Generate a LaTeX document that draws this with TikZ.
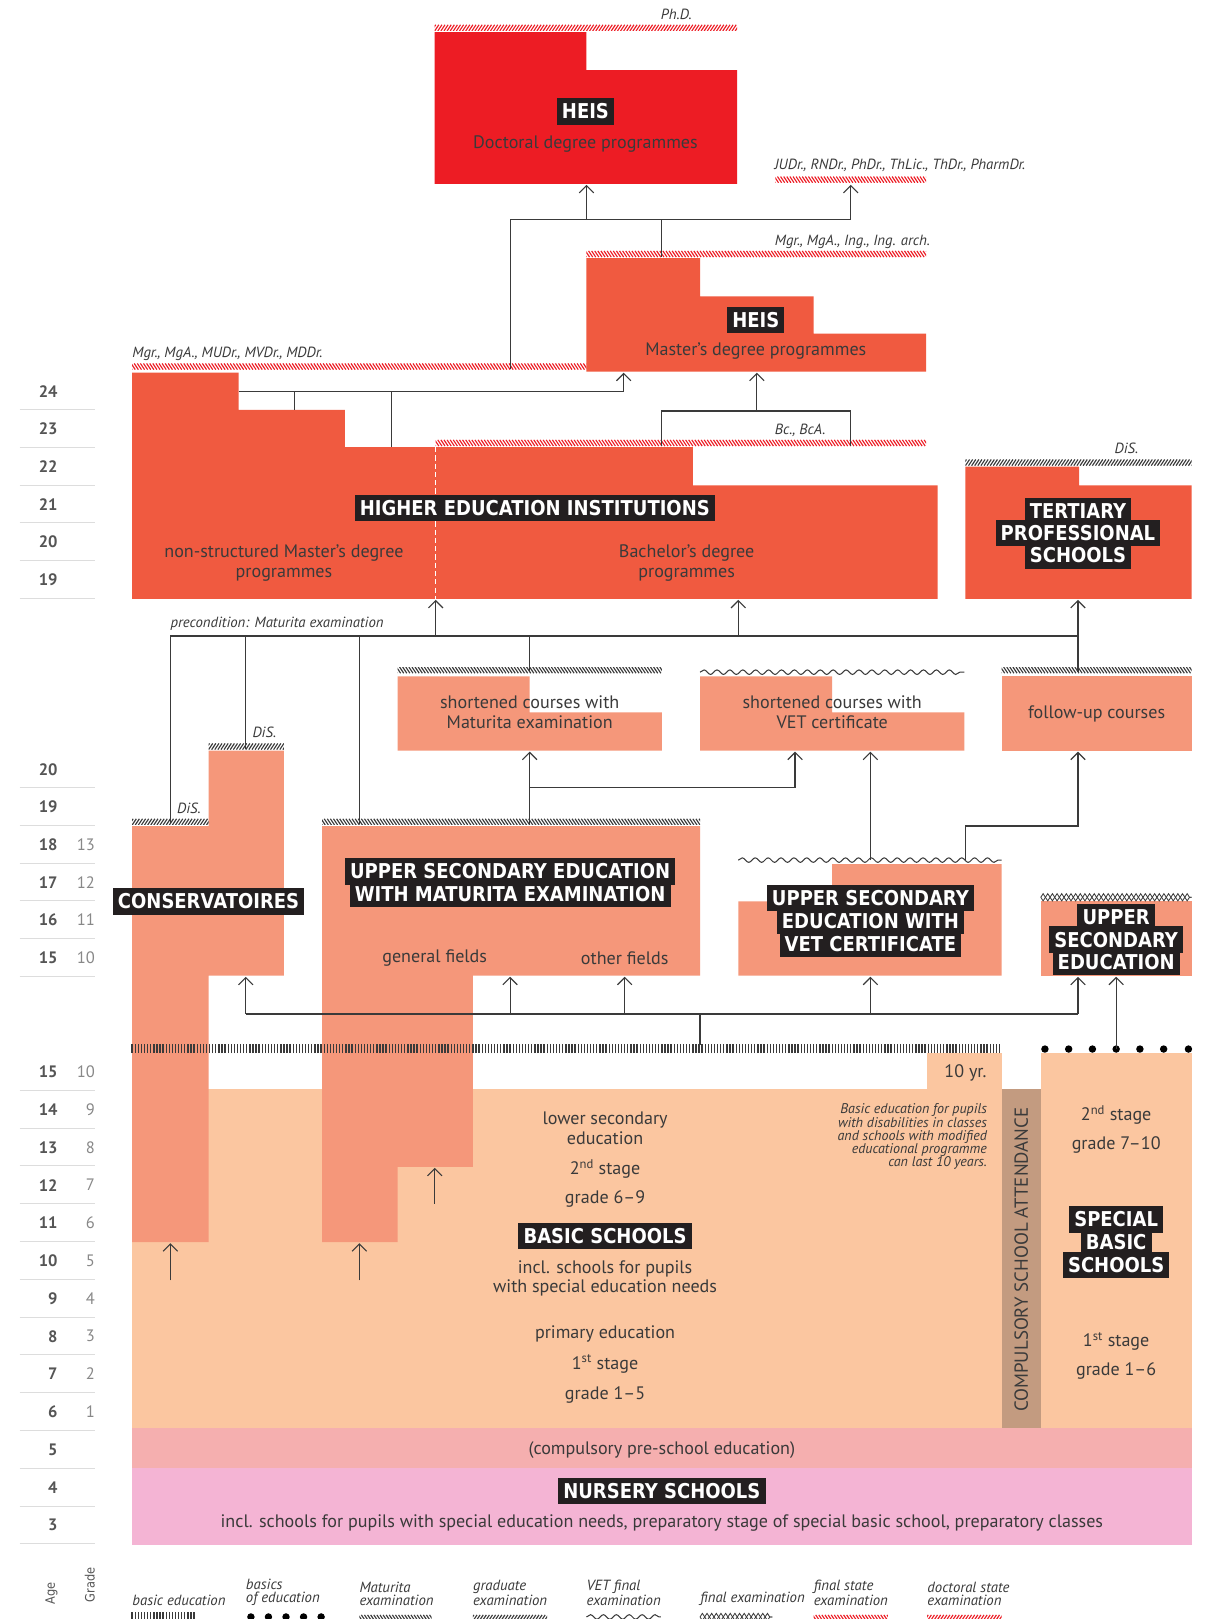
\documentclass[tikz,border=0pt]{standalone}
\usepackage{fontspec}
\setmainfont{PT Sans}
\newfontfamily\hd[FakeStretch=0.88]{DejaVu Sans}
\usetikzlibrary{arrows.meta,decorations.pathmorphing}
\definecolor{docred}{HTML}{ED1C24}
\definecolor{heired}{HTML}{F05A40}
\definecolor{salmon}{HTML}{F5977A}
\definecolor{peach}{HTML}{FBC6A0}
\definecolor{brownbar}{HTML}{C39B80}
\definecolor{preschool}{HTML}{F5AFAF}
\definecolor{nursery}{HTML}{F4B4D4}
\definecolor{ink}{HTML}{3A3A3A}
\definecolor{lblbg}{HTML}{231F20}
\definecolor{sepgray}{HTML}{DDDDDD}
\definecolor{agegray}{HTML}{555555}
\definecolor{gradegray}{HTML}{888888}

\newcommand{\myhatch}[5]{%
  \begin{scope}
    \clip (#1,#3) rectangle (#2,#3-6);
    \pgfmathtruncatemacro\hxa{#1-6}
    \pgfmathtruncatemacro\hxb{#1-3}
    \pgfmathtruncatemacro\hxe{#2+6}
    \foreach \xx in {\hxa,\hxb,...,\hxe} \draw[#4,line width=1.1pt] (\xx,#3) -- ++(#5,-6);
  \end{scope}}
\newcommand{\mywave}[3]{\draw[ink,line width=1pt,decorate,decoration={snake,amplitude=2.2pt,segment length=12.5pt}] (#1,#3) -- (#2,#3);}
\newcommand{\mydiam}[3]{%
  \draw[ink,line width=0.8pt,decorate,decoration={zigzag,amplitude=3.5pt,segment length=9pt}] (#1,#3) -- (#2,#3);
  \draw[ink,line width=0.8pt,decorate,decoration={zigzag,mirror,amplitude=3.5pt,segment length=9pt}] (#1,#3) -- (#2,#3);}
\newcommand{\myticks}[3]{%
  \pgfmathtruncatemacro\tb{#1+3}
  \foreach \xx in {#1,\tb,...,#2} \draw[ink,line width=1.3pt] (\xx,#3) -- (\xx,#3-9);}

\tikzset{
  conn/.style={draw=ink, line width=1.1pt},
  arr/.style={conn, -{Straight Barb[length=7pt,width=14pt,line width=1.1pt]}},
  lbl/.style={fill=lblbg, text=white, font=\hd\bfseries\fontsize{19.8}{19.8}\selectfont,
    inner xsep=5pt, inner ysep=5.5pt, text height=14.5pt, text depth=0pt, anchor=center},
  body/.style={text=ink, font=\fontsize{17.5}{19}\selectfont, align=center, inner sep=0pt},
  ital/.style={text=ink, font=\itshape\fontsize{14.3}{14}\selectfont, inner sep=0pt},
  agestyle/.style={text=agegray, font=\bfseries\fontsize{16}{16}\selectfont, anchor=east, inner sep=0pt},
  gradestyle/.style={text=gradegray, font=\fontsize{16}{16}\selectfont, anchor=east, inner sep=0pt},
  sep/.style={draw=sepgray, line width=1pt},
  leg/.style={text=ink, font=\itshape\fontsize{14.3}{12.5}\selectfont, anchor=south west, align=left, inner sep=0pt},
}

\begin{document}
\begin{tikzpicture}[x=1pt,y=-1pt]
\clip (0,0) rectangle (1168,1568);
\fill[white] (0,0) rectangle (1168,1568);

% ---------- age / grade column ----------
\foreach \a/\yy [count=\i] in {24/379,23/415.5,22/452,21/488.5,20/525,19/561.5} {
  \node[agestyle] (ageU\i) at (56,\yy) {\a};
  \draw[sep] (19,\yy+18) -- (92,\yy+18);
}
\foreach \a/\g/\yy [count=\i] in {20//745,19//781.5,18/13/818,17/12/854.5,16/11/891,15/10/927.5} {
  \node[agestyle] (ageM\i) at (56,\yy) {\a};
  \node[gradestyle] (gradeM\i) at (92,\yy) {\g};
  \draw[sep] (19,\yy+18) -- (92,\yy+18);
}
\foreach \a/\g/\yy [count=\i] in {15/10/1038,14/9/1074.6,13/8/1111.2,12/7/1147.8,11/6/1184.4,10/5/1221,9/4/1257.6,8/3/1294.2,7/2/1330.8,6/1/1367.4,5//1404,4//1440.6,3//1477.2} {
  \node[agestyle] (ageL\i) at (56,\yy) {\a};
  \node[gradestyle] (gradeL\i) at (92,\yy) {\g};
  \draw[sep] (19,\yy+18) -- (92,\yy+18);
}

% ---------- blocks ----------
\fill[peach] (128,1055) rectangle (970,1383);
\fill[peach] (898,1020) rectangle (970,1055);
\fill[peach] (1008,1020) rectangle (1154,1383);
\fill[brownbar] (970,1055) rectangle (1008,1383);
\fill[preschool] (128,1383) rectangle (1154,1422);
\fill[nursery] (128,1422) rectangle (1154,1496);

\fill[salmon] (128,800) -- (202,800) -- (202,727) -- (275,727) -- (275,945) -- (202,945) -- (202,1203) -- (128,1203) -- cycle;
\fill[salmon] (312,800) -- (678,800) -- (678,945) -- (458,945) -- (458,1130) -- (385,1130) -- (385,1203) -- (312,1203) -- cycle;
\fill[salmon] (715,873) -- (806,873) -- (806,837) -- (970,837) -- (970,945) -- (715,945) -- cycle;
\fill[salmon] (1008,873) rectangle (1154,945);
\fill[salmon] (385,655) -- (513,655) -- (513,690) -- (641,690) -- (641,727) -- (385,727) -- cycle;
\fill[salmon] (678,655) -- (806,655) -- (806,690) -- (934,690) -- (934,727) -- (678,727) -- cycle;
\fill[salmon] (970,655) rectangle (1154,727);

\fill[heired] (128,361) -- (231,361) -- (231,397) -- (334,397) -- (334,433) -- (671,433) -- (671,470) -- (908,470) -- (908,580) -- (128,580) -- cycle;
\draw[white,line width=1pt,dash pattern=on 5pt off 3pt] (422,433) -- (422,580);
\fill[heired] (935,452) -- (1045,452) -- (1045,470) -- (1154,470) -- (1154,580) -- (935,580) -- cycle;
\fill[heired] (568,250) -- (678,250) -- (678,287) -- (788,287) -- (788,323) -- (897,323) -- (897,360) -- (568,360) -- cycle;
\fill[docred] (421,31) -- (568,31) -- (568,68) -- (714,68) -- (714,178) -- (421,178) -- cycle;

% ---------- exam lines ----------
\myhatch{421}{714}{30}{docred}{4}
\myhatch{751}{897}{177}{docred}{-4}
\myhatch{568}{897}{249}{docred}{-4}
\myhatch{128}{568}{358}{docred}{-4}
\myhatch{422}{897}{432}{docred}{-4}
\myhatch{935}{1154}{451}{ink}{4}
\myhatch{385}{641}{652}{ink}{-4}
\myhatch{970}{1154}{652}{ink}{-4}
\myhatch{202}{275}{726}{ink}{4}
\myhatch{128}{202}{799}{ink}{4}
\myhatch{312}{678}{799}{ink}{-4}
\mywave{678}{934}{651}
\mywave{715}{970}{833}
\mydiam{1008}{1154}{869}
\myticks{128}{970}{1020}
\foreach \xx in {1012,1035,1058,1081,1104,1127,1151} \fill[black] (\xx,1016) circle[radius=3.6pt];

% ---------- connectors ----------
\coordinate (dA) at (494,357);
\coordinate (dB) at (494,213);
\coordinate (dC) at (824,213);
\draw[conn] (dA) -- (dB) -- (dC);
\draw[arr] (568,213) -- (568,179);
\draw[arr] (dC) -- (824,179);
\draw[conn] (641,213) -- (641,249);

\draw[arr] (231,379) -- (604,379) -- (604,361);
\draw[conn] (285,379) -- (285,397);
\draw[conn] (379,379) -- (379,433);
\draw[conn] (641,432) -- (641,398) -- (824,398) -- (824,432);
\draw[arr] (733,398) -- (733,361);

\draw[conn] (165,798) -- (165,616) -- (1044,616);
\draw[conn] (238,616) -- (238,725);
\draw[conn] (348,616) -- (348,798);
\draw[arr] (422,616) -- (422,581);
\draw[arr] (715,616) -- (715,581);
\draw[arr] (1044,616) -- (1044,581);
\draw[conn] (513,616) -- (513,651);
\draw[conn] (1044,616) -- (1044,651);

\draw[arr] (513,798) -- (513,728);
\draw[arr] (513,763) -- (770,763) -- (770,728);
\draw[arr] (843,833) -- (843,728);
\draw[arr] (935,833) -- (935,800) -- (1044,800) -- (1044,728);

\draw[conn] (238,982) -- (1044,982);
\foreach \xx in {238,494,605,843,1044} \draw[arr] (\xx,982) -- (\xx,946);
\draw[conn] (678,982) -- (678,1012);
\draw[arr] (1081,1016) -- (1081,946);

\draw[arr] (165,1240) -- (165,1204);
\draw[arr] (348,1240) -- (348,1204);
\draw[arr] (421,1166) -- (421,1131);

% ---------- texts ----------
\node[ital] (tphd) at (655,14) {Ph.D.};
\node[lbl] (hdoc) at (567,108) {HEIS};
\node[body] (tdoc) at (567,139) {Doctoral degree programmes};
\node[ital,anchor=west] (tjud) at (750,160) {JUDr., RNDr., PhDr., ThLic., ThDr., PharmDr.};
\node[ital,anchor=east] (tmgi) at (901,234) {Mgr., MgA., Ing., Ing. arch.};
\node[lbl] (hmas) at (732,310) {HEIS};
\node[body] (tmas) at (732,340) {Master’s degree programmes};
\node[ital,anchor=west] (tmgm) at (128,343) {Mgr., MgA., MUDr., MVDr., MDDr.};
\node[ital] (tbc) at (775,417) {Bc., BcA.};
\node[ital] (tdis1) at (1091,434) {DiS.};
\node[lbl] (hhei) at (518,492) {HIGHER EDUCATION INSTITUTIONS};
\node[body] (tnon) at (275,545) {non-structured Master’s degree\\programmes};
\node[body] (tbac) at (665,545) {Bachelor’s degree\\programmes};
\node[lbl] (htp1) at (1044,495) {TERTIARY};
\node[lbl] (htp2) at (1044,516.5) {PROFESSIONAL};
\node[lbl] (htp3) at (1044,538) {SCHOOLS};
\node[ital,anchor=west] (tpre) at (165,604) {precondition: Maturita examination};
\node[body] (tshm) at (513,690) {shortened courses with\\Maturita examination};
\node[body] (tshv) at (806,690) {shortened courses with\\VET certificate};
\node[body] (tfol) at (1062,691) {follow-up courses};
\node[ital] (tdis2) at (256,709) {DiS.};
\node[ital] (tdis3) at (183,783) {DiS.};
\node[lbl] (hmat1) at (494,844) {UPPER SECONDARY EDUCATION};
\node[lbl] (hmat2) at (494,866) {WITH MATURITA EXAMINATION};
\node[lbl] (hcon) at (202,873) {CONSERVATOIRES};
\node[body] (tgen) at (421,928) {general fields};
\node[body] (toth) at (605,928) {other fields};
\node[lbl] (hvet1) at (843,870) {UPPER SECONDARY};
\node[lbl] (hvet2) at (843,892) {EDUCATION WITH};
\node[lbl] (hvet3) at (843,914) {VET CERTIFICATE};
\node[lbl] (hus1) at (1081,888) {UPPER};
\node[lbl] (hus2) at (1081,910) {SECONDARY};
\node[lbl] (hus3) at (1081,932) {EDUCATION};
\node[body] (t10) at (935,1039) {10 yr.};
\node[ital,align=right,anchor=north east,font=\itshape\fontsize{13.6}{12.8}\selectfont] (tmod) at (956,1069)
  {Basic education for pupils\\with disabilities in classes\\and schools with modified\\educational programme\\can last 10 years.};
\node[body] (tlow) at (586,1093) {lower secondary\\education};
\node[body] (t2st) at (586,1132) {2\textsuperscript{nd} stage};
\node[body] (tg69) at (586,1161) {grade 6--9};
\node[lbl] (hbas) at (586,1197) {BASIC SCHOOLS};
\node[body] (tincl) at (586,1238) {incl. schools for pupils\\with special education needs};
\node[body] (tpri) at (586,1292) {primary education};
\node[body] (t1st) at (586,1321) {1\textsuperscript{st} stage};
\node[body] (tg15) at (586,1351) {grade 1--5};
\node[text=ink,font=\fontsize{18.3}{18}\selectfont,rotate=90,inner sep=0pt] (tcomp) at (989,1220) {COMPULSORY SCHOOL ATTENDANCE};
\node[body] (ts2) at (1081,1080) {2\textsuperscript{nd} stage};
\node[body] (ts710) at (1081,1109) {grade 7--10};
\node[lbl] (hsp1) at (1081,1181) {SPECIAL};
\node[lbl] (hsp2) at (1081,1203) {BASIC};
\node[lbl] (hsp3) at (1081,1225) {SCHOOLS};
\node[body] (ts1) at (1081,1299) {1\textsuperscript{st} stage};
\node[body] (ts16) at (1081,1328) {grade 1--6};
\node[body] (tpsc) at (641,1404) {(compulsory pre-school education)};
\node[lbl] (hnur) at (641,1444) {NURSERY SCHOOLS};
\node[body] (tnur) at (641,1475) {incl. schools for pupils with special education needs, preparatory stage of special basic school, preparatory classes};

% ---------- legend ----------
\node[text=agegray,font=\hd\fontsize{12.5}{12.5}\selectfont,rotate=90,inner sep=0pt] (lage) at (50,1543) {Age};
\node[text=agegray,font=\hd\fontsize{12.5}{12.5}\selectfont,rotate=90,inner sep=0pt] (lgrd) at (87,1535) {Grade};
\node[leg] (l1) at (128,1555) {basic education};
\node[leg] (l2) at (238,1555) {basics\\of education};
\node[leg] (l3) at (348,1555) {Maturita\\examination};
\node[leg] (l4) at (458,1555) {graduate\\examination};
\node[leg] (l5) at (568,1555) {VET final\\examination};
\node[leg] (l6) at (678,1555) {final examination};
\node[leg] (l7) at (788,1555) {final state\\examination};
\node[leg] (l8) at (898,1555) {doctoral state\\examination};
\myticks{128}{190}{1570}
\foreach \xx in {243,260,277,294,311} \fill[black] (\xx,1566) circle[radius=3.6pt];
\myhatch{348}{418}{1570}{ink}{-4}
\myhatch{458}{530}{1570}{ink}{4}
\mywave{568}{640}{1566}
\mydiam{678}{748}{1566}
\myhatch{788}{860}{1570}{docred}{-4}
\myhatch{898}{970}{1570}{docred}{4}
\end{tikzpicture}
\end{document}
